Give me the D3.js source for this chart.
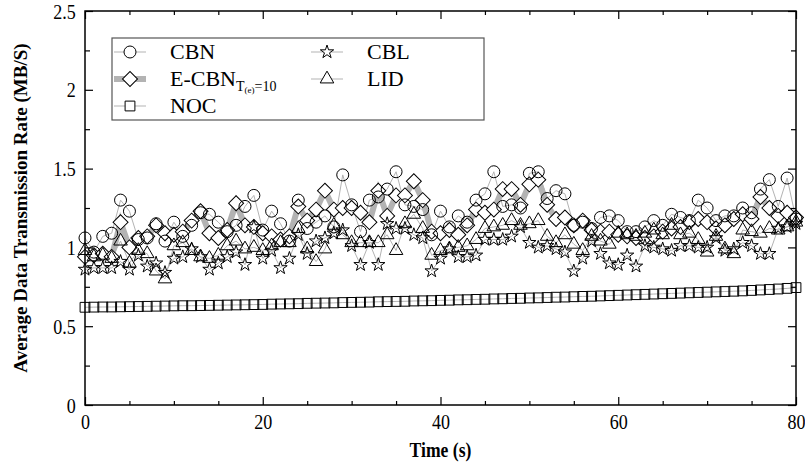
<!DOCTYPE html>
<html>
<head>
<meta charset="utf-8">
<script src="https://cdn.jsdelivr.net/npm/d3@7"></script>
<style>
  body { margin: 0; background: #fff; }
  svg text { font-family: "Liberation Serif", "Times New Roman", serif; }
</style>
</head>
<body>
<script>
// time axis, one sample per second
const times = d3.range(0, 81);

const cbn = [1.06, 0.97, 1.07, 1.09, 1.30, 1.23, 1.05, 1.06, 1.15, 1.04,
  1.16, 1.07, 1.14, 1.22, 1.21, 1.16, 1.10, 1.14, 1.26, 1.33,
  1.11, 1.23, 1.15, 1.04, 1.30, 1.12, 1.16, 1.20, 1.13, 1.46,
  1.27, 1.10, 1.30, 1.32, 1.37, 1.48, 1.27, 1.26, 1.24, 1.08,
  1.23, 1.13, 1.20, 1.16, 1.30, 1.34, 1.48, 1.26, 1.27, 1.25,
  1.47, 1.48, 1.31, 1.36, 1.34, 1.14, 1.16, 1.12, 1.19, 1.20,
  1.17, 1.10, 1.10, 1.13, 1.17, 1.14, 1.21, 1.19, 1.17, 1.30,
  1.25, 1.17, 1.20, 1.20, 1.25, 1.22, 1.37, 1.43, 1.26, 1.44, 1.18];

const ecbn = [0.94, 0.95, 0.96, 0.94, 1.16, 1.00, 1.06, 1.07, 1.14, 1.09,
  1.08, 1.10, 1.17, 1.23, 1.09, 1.06, 1.11, 1.28, 1.14, 1.13,
  1.09, 1.07, 1.05, 1.07, 1.26, 1.17, 1.24, 1.36, 1.24, 1.25,
  1.25, 1.22, 1.16, 1.36, 1.20, 1.33, 1.33, 1.42, 1.30, 1.10,
  1.09, 1.11, 1.08, 1.14, 1.24, 1.22, 1.24, 1.37, 1.37, 1.27,
  1.40, 1.43, 1.27, 1.18, 1.19, 1.14, 1.17, 1.11, 1.10, 1.10,
  1.08, 1.07, 1.06, 1.06, 1.07, 1.10, 1.12, 1.13, 1.16, 1.18,
  1.16, 1.12, 1.14, 1.18, 1.21, 1.18, 1.32, 1.25, 1.20, 1.22, 1.19];

const noc = [0.620, 0.621, 0.622, 0.622, 0.623, 0.624, 0.625, 0.626, 0.627, 0.628,
  0.629, 0.630, 0.630, 0.631, 0.632, 0.633, 0.634, 0.635, 0.636, 0.637,
  0.638, 0.640, 0.641, 0.642, 0.643, 0.645, 0.646, 0.647, 0.648, 0.650,
  0.651, 0.652, 0.653, 0.655, 0.656, 0.657, 0.658, 0.660, 0.661, 0.662,
  0.664, 0.665, 0.667, 0.668, 0.670, 0.671, 0.673, 0.674, 0.676, 0.677,
  0.679, 0.680, 0.682, 0.684, 0.685, 0.687, 0.689, 0.690, 0.692, 0.694,
  0.696, 0.698, 0.700, 0.702, 0.704, 0.706, 0.708, 0.710, 0.712, 0.714,
  0.716, 0.718, 0.720, 0.722, 0.724, 0.727, 0.730, 0.733, 0.736, 0.740, 0.745];

const cbl = [0.86, 0.87, 0.87, 0.87, 0.91, 0.86, 0.95, 0.88, 0.90, 0.84,
  0.93, 0.94, 0.99, 0.94, 0.86, 0.90, 0.94, 0.97, 0.89, 1.13,
  0.93, 0.98, 0.87, 0.93, 1.08, 0.96, 1.04, 1.06, 1.09, 1.11,
  1.01, 0.89, 1.03, 0.89, 1.15, 1.12, 1.12, 1.08, 1.06, 0.85,
  0.93, 0.99, 0.94, 0.94, 0.95, 1.05, 1.05, 1.05, 1.07, 1.13,
  1.03, 1.00, 1.01, 0.99, 0.97, 0.85, 0.93, 1.04, 0.96, 0.90,
  0.89, 0.95, 0.88, 1.01, 1.00, 0.99, 0.98, 1.01, 1.01, 1.00,
  1.00, 1.06, 0.98, 0.99, 1.03, 1.01, 0.96, 0.96, 1.12, 1.13, 1.15];

const lid = [0.98, 0.94, 0.95, 0.93, 1.04, 0.90, 0.98, 0.96, 0.85, 0.80,
  1.01, 1.03, 0.98, 0.94, 0.93, 0.95, 1.01, 1.04, 0.99, 1.00,
  0.98, 1.01, 1.03, 1.03, 1.12, 0.99, 0.91, 0.99, 1.14, 1.08,
  1.03, 1.03, 1.03, 1.03, 1.08, 0.98, 1.15, 1.21, 1.12, 0.95,
  0.98, 0.99, 1.00, 1.01, 1.05, 1.12, 1.13, 1.14, 1.17, 1.14,
  1.15, 1.17, 1.07, 1.03, 1.08, 1.02, 0.98, 1.07, 1.04, 1.02,
  1.09, 1.08, 1.07, 1.09, 1.11, 1.08, 1.14, 1.08, 1.09, 1.05,
  0.97, 1.07, 0.99, 0.96, 1.11, 1.10, 1.09, 1.12, 1.11, 1.13, 1.16];

const xTicks = [0, 20, 40, 60, 80];
const xMinor = [5, 10, 15, 25, 30, 35, 45, 50, 55, 65, 70, 75];
const yTicks = [0, 0.5, 1, 1.5, 2, 2.5];
const yMinor = [0.25, 0.75, 1.25, 1.75, 2.25];

// width and height
const w = 805;
const h = 466;
const m = { left: 85, right: 9, top: 11, bottom: 61 };

const xScale = d3.scaleLinear().domain([0, 80]).range([m.left, w - m.right]);
const yScale = d3.scaleLinear().domain([0, 2.5]).range([h - m.bottom, m.top]);

const svg = d3.select("body").append("svg").attr("width", w).attr("height", h);

// series: line width, symbol, size, rotation, marker fill
const series = [
  { name: "E-CBN", values: ecbn, lw: 6, sym: d3.symbolSquare, size: 112, rot: 45, fill: "#fff" },
  { name: "LID", values: lid, lw: 1, sym: d3.symbolTriangle, size: 80, rot: 0, fill: "none" },
  { name: "CBL", values: cbl, lw: 1, sym: d3.symbolStar, size: 55, rot: 0, fill: "none" },
  { name: "NOC", values: noc, lw: 1, sym: d3.symbolSquare, size: 96, rot: 0, fill: "none" },
  { name: "CBN", values: cbn, lw: 1, sym: d3.symbolCircle, size: 113, rot: 0, fill: "none" }
];
const byName = (n) => series.find((s) => s.name === n);

const line = d3.line().x((d) => xScale(d[0])).y((d) => yScale(d[1]));
const pts = (s) => times.map((t, i) => [t, s.values[i]]);

// thin lines first, then the thick E-CBN line with its diamonds
series.slice(1).forEach((s) => {
  svg.append("path")
    .attr("d", line(pts(s)))
    .attr("fill", "none")
    .attr("stroke", "#b3b3b3")
    .attr("stroke-width", s.lw);
});

series.forEach((s, k) => {
  if (k === 0) {
    svg.append("path")
      .attr("d", line(pts(s)))
      .attr("fill", "none")
      .attr("stroke", "#b3b3b3")
      .attr("stroke-width", s.lw);
  }
  svg.append("g")
    .selectAll("path")
    .data(pts(s))
    .enter()
    .append("path")
    .attr("d", d3.symbol().type(s.sym).size(s.size))
    .attr("transform", (d) => `translate(${xScale(d[0])},${yScale(d[1])}) rotate(${s.rot})`)
    .attr("fill", s.fill)
    .attr("stroke", "#000")
    .attr("stroke-width", 1);
});

// frame
svg.append("rect")
  .attr("x", m.left).attr("y", m.top)
  .attr("width", w - m.right - m.left).attr("height", h - m.bottom - m.top)
  .attr("fill", "none").attr("stroke", "#000").attr("stroke-width", 1.5);

// axes with inward ticks
const fmt = (d) => d3.format("")(d);
const axisStyle = (g) => {
  g.select(".domain").remove();
  g.selectAll(".tick line").attr("stroke", "#000").attr("stroke-width", 1.2);
  g.selectAll(".tick text")
    .attr("font-family", "Liberation Serif")
    .attr("font-size", 22)
    .attr("fill", "#000");
};

svg.append("g").attr("transform", `translate(0,${h - m.bottom})`)
  .call(d3.axisBottom(xScale).tickValues(xTicks).tickSizeInner(-8).tickPadding(8).tickFormat(fmt))
  .call(axisStyle)
  .call((g) => g.selectAll(".tick text").attr("transform", "scale(0.82,1)"));
svg.append("g").attr("transform", `translate(0,${h - m.bottom})`)
  .call(d3.axisBottom(xScale).tickValues(xMinor).tickSizeInner(-4).tickFormat(""))
  .call(axisStyle);
svg.append("g").attr("transform", `translate(0,${m.top})`)
  .call(d3.axisTop(xScale).tickValues(xTicks).tickSizeInner(-8).tickFormat(""))
  .call(axisStyle);
svg.append("g").attr("transform", `translate(0,${m.top})`)
  .call(d3.axisTop(xScale).tickValues(xMinor).tickSizeInner(-4).tickFormat(""))
  .call(axisStyle);

svg.append("g").attr("transform", `translate(${m.left},0)`)
  .call(d3.axisLeft(yScale).tickValues(yTicks).tickSizeInner(-8).tickPadding(4).tickFormat(fmt))
  .call(axisStyle)
  .call((g) => g.selectAll(".tick text").attr("transform", "translate(-6,0) scale(0.82,1)"));
svg.append("g").attr("transform", `translate(${m.left},0)`)
  .call(d3.axisLeft(yScale).tickValues(yMinor).tickSizeInner(-5).tickFormat(""))
  .call(axisStyle);
svg.append("g").attr("transform", `translate(${w - m.right},0)`)
  .call(d3.axisRight(yScale).tickValues(yTicks).tickSizeInner(-8).tickFormat(""))
  .call(axisStyle);
svg.append("g").attr("transform", `translate(${w - m.right},0)`)
  .call(d3.axisRight(yScale).tickValues(yMinor).tickSizeInner(-5).tickFormat(""))
  .call(axisStyle);

// axis titles
svg.append("text")
  .attr("x", (m.left + w - m.right) / 2).attr("y", 457)
  .attr("text-anchor", "middle")
  .attr("font-size", 20).attr("font-weight", "bold")
  .attr("transform", `translate(${(m.left + w - m.right) / 2 * 0.12},0) scale(0.88,1)`)
  .text("Time (s)");

svg.append("text")
  .attr("transform", `translate(27,${(m.top + h - m.bottom) / 2}) rotate(-90)`)
  .attr("text-anchor", "middle")
  .attr("font-size", 19).attr("font-weight", "bold")
  .text("Average Data Transmission Rate (MB/S)");

// legend
const legend = svg.append("g").attr("id", "legend");
legend.append("rect")
  .attr("x", 112).attr("y", 38).attr("width", 372).attr("height", 82)
  .attr("fill", "#fff").attr("stroke", "#555").attr("stroke-width", 1.2);

const legendItems = [
  { s: byName("CBN"), x: 130, y: 52 },
  { s: byName("E-CBN"), x: 130, y: 79 },
  { s: byName("NOC"), x: 130, y: 106 },
  { s: byName("CBL"), x: 327, y: 52 },
  { s: byName("LID"), x: 327, y: 79 }
];

legendItems.forEach((it) => {
  legend.append("line")
    .attr("x1", it.x - 16).attr("x2", it.x + 16)
    .attr("y1", it.y).attr("y2", it.y)
    .attr("stroke", "#b3b3b3").attr("stroke-width", it.s.lw);
  legend.append("path")
    .attr("d", d3.symbol().type(it.s.sym).size(it.s.size))
    .attr("transform", `translate(${it.x},${it.y}) rotate(${it.s.rot})`)
    .attr("fill", "#fff").attr("stroke", "#000");
  const t = legend.append("text")
    .attr("x", it.x + 40).attr("y", it.y + 7)
    .attr("font-size", 22);
  if (it.s.name === "E-CBN") {
    t.append("tspan").text("E-CBN");
    t.append("tspan").attr("font-size", 14).attr("dy", 5).text("T");
    t.append("tspan").attr("font-size", 9).attr("dy", 2).text("(e)");
    t.append("tspan").attr("font-size", 14).attr("dy", -2).text("=10");
  } else {
    t.text(it.s.name);
  }
});
</script>
</body>
</html>
